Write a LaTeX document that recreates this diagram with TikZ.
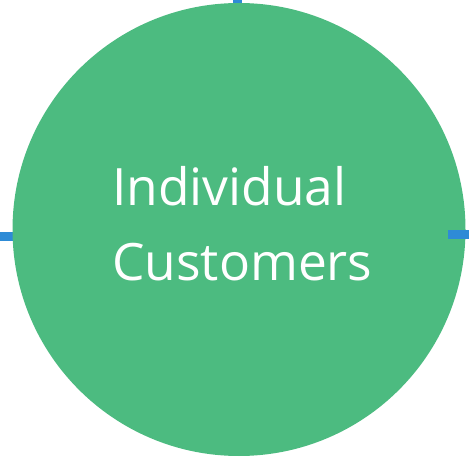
\documentclass[tikz,border=0pt]{standalone}
\usepackage{fontspec}
\setmainfont{Open Sans}
\definecolor{cgreen}{RGB}{76,187,128}
\definecolor{cblue}{RGB}{46,139,214}
\begin{document}
\begin{tikzpicture}[x=1pt,y=1pt,
  handle/.style={fill=cblue,draw=none,inner sep=0pt,minimum width=9pt,minimum height=9pt,rectangle},
  lbl/.style={text=white,font=\fontsize{51.5}{60}\selectfont,inner sep=0pt,anchor=base west}]
\useasboundingbox (0,0) rectangle (469,459);
\node[handle,minimum width=13pt] (hl) at (6.5,222.5) {};
\node[handle] (ht) at (237.5,457) {};
\node[circle,fill=cgreen,draw=none,minimum size=453pt,inner sep=0pt] (c) at (239,229.5) {};
\node[handle,minimum width=21pt] (hr) at (458.5,224.5) {};
\node[lbl] (t1) at (112,254) {Individual};
\node[lbl] (t2) at (112,179) {Customers};
\end{tikzpicture}
\end{document}
